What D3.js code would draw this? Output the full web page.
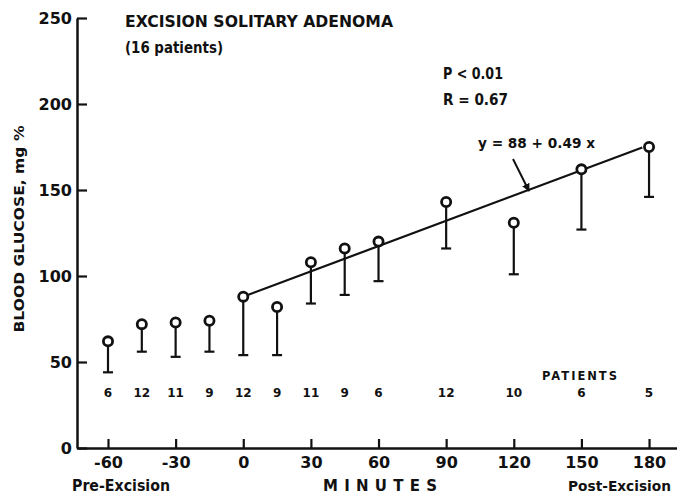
<!DOCTYPE html>
<html>
<head>
<meta charset="utf-8">
<script src="https://cdn.jsdelivr.net/npm/d3@7"></script>
<style>
  body { margin: 0; background: #fff; }
  text { font-family: "DejaVu Sans", sans-serif; font-weight: bold; fill: #111; }
</style>
</head>
<body>
<div class="chart"></div>
<script>
// minutes relative to excision
var minutes = [-60, -45, -30, -15, 0, 15, 30, 45, 60, 90, 120, 150, 180];
// mean blood glucose, mg %
var meanGlucose = [62, 72, 73, 74, 88, 82, 108, 116, 120, 143, 131, 162, 175];
// lower end of the error bar
var lowGlucose = [44, 56, 53, 56, 54, 54, 84, 89, 97, 116, 101, 127, 146];
// number of patients at each time
var patients = [6, 12, 11, 9, 12, 9, 11, 9, 6, 12, 10, 6, 5];
var xTicks = [-60, -30, 0, 30, 60, 90, 120, 150, 180];
var yTicks = [0, 50, 100, 150, 200, 250];
// regression y = 88 + 0.49 x
var fitMinutes = [2, 177];
var fitA = 88, fitB = 0.49;

var width = 677, height = 495;

var svg = d3.select(".chart").append("svg")
  .attr("width", width)
  .attr("height", height);

var x = d3.scaleLinear().domain([-73.75, 192.4]).range([77, 677]);
var y = d3.scaleLinear().domain([0, 250]).range([448, 18]);

// axes
var xAxis = svg.append("g")
  .attr("transform", "translate(0," + y(0) + ")")
  .call(d3.axisBottom(x).tickValues(xTicks).tickSize(-9).tickSizeOuter(0).tickPadding(9)
    .tickFormat(function(d) { return d < 0 ? "-" + Math.abs(d) : d; }));

var yAxis = svg.append("g")
  .attr("transform", "translate(" + x(-73.75) + ",0)")
  .call(d3.axisLeft(y).tickValues(yTicks).tickSize(-10).tickSizeOuter(0).tickPadding(5));

[xAxis, yAxis].forEach(function(g) {
  g.select(".domain").attr("stroke", "#111").attr("stroke-width", 2.5);
  g.selectAll(".tick line").attr("stroke", "#111").attr("stroke-width", 2.2);
  g.selectAll(".tick text")
    .attr("fill", "#111")
    .style("font-family", "'DejaVu Sans', sans-serif")
    .style("font-weight", "bold")
    .style("font-size", "16px");
});

// error bars (downward only)
var bars = svg.append("g");
bars.selectAll("line.bar").data(minutes).enter().append("line")
  .attr("class", "bar")
  .attr("x1", function(d) { return x(d); })
  .attr("x2", function(d) { return x(d); })
  .attr("y1", function(d, i) { return y(meanGlucose[i]); })
  .attr("y2", function(d, i) { return y(lowGlucose[i]); })
  .attr("stroke", "#111")
  .attr("stroke-width", 2.2);

bars.selectAll("line.cap").data(minutes).enter().append("line")
  .attr("class", "cap")
  .attr("x1", function(d) { return x(d) - 5; })
  .attr("x2", function(d) { return x(d) + 5; })
  .attr("y1", function(d, i) { return y(lowGlucose[i]); })
  .attr("y2", function(d, i) { return y(lowGlucose[i]); })
  .attr("stroke", "#111")
  .attr("stroke-width", 2.2);

// regression line
svg.append("line")
  .attr("x1", x(fitMinutes[0]))
  .attr("y1", y(fitA + fitB * fitMinutes[0]))
  .attr("x2", x(fitMinutes[1]))
  .attr("y2", y(fitA + fitB * fitMinutes[1]))
  .attr("stroke", "#111")
  .attr("stroke-width", 2.2);

// mean points
svg.append("g").selectAll("circle").data(minutes).enter().append("circle")
  .attr("cx", function(d) { return x(d); })
  .attr("cy", function(d, i) { return y(meanGlucose[i]); })
  .attr("r", 4.6)
  .attr("fill", "#fff")
  .attr("stroke", "#111")
  .attr("stroke-width", 2.8);

// patient counts
svg.append("g").selectAll("text").data(patients).enter().append("text")
  .attr("x", function(d, i) { return x(minutes[i]); })
  .attr("y", 397)
  .attr("text-anchor", "middle")
  .style("font-size", "12px")
  .text(function(d) { return d; });

svg.append("text")
  .attr("x", 542).attr("y", 380)
  .attr("textLength", 75)
  .style("font-size", "11.5px")
  .text("PATIENTS");

// arrow to regression line
svg.append("defs").append("marker")
  .attr("id", "head")
  .attr("viewBox", "0 0 10 10")
  .attr("refX", 9).attr("refY", 5)
  .attr("markerWidth", 4).attr("markerHeight", 4)
  .attr("orient", "auto")
  .append("path").attr("d", "M0,0L10,5L0,10Z").attr("fill", "#111");

svg.append("line")
  .attr("x1", 513).attr("y1", 159)
  .attr("x2", 529).attr("y2", 191)
  .attr("stroke", "#111")
  .attr("stroke-width", 2)
  .attr("marker-end", "url(#head)");

// labels
function label(t, px, py, size, len) {
  var el = svg.append("text").attr("x", px).attr("y", py)
    .style("font-size", size + "px").text(t);
  if (len) el.attr("textLength", len).attr("lengthAdjust", "spacingAndGlyphs");
  return el;
}
label("EXCISION SOLITARY ADENOMA", 125, 27, 15, 268);
label("(16 patients)", 125, 53, 15, 98);
label("P < 0.01", 443, 79, 15, 60);
label("R = 0.67", 443, 105, 15, 65);
label("y = 88 + 0.49 x", 478, 148, 14, 117);
label("Pre-Excision", 72, 491, 15, 98);
label("Post-Excision", 568, 491, 14.5, 103);
svg.append("text")
  .attr("x", 323).attr("y", 491)
  .attr("textLength", 114)
  .style("font-size", "15px")
  .text("MINUTES");

svg.append("text")
  .attr("transform", "translate(24,229) rotate(-90)")
  .attr("text-anchor", "middle")
  .attr("textLength", 207)
  .attr("lengthAdjust", "spacingAndGlyphs")
  .style("font-size", "14px")
  .text("BLOOD  GLUCOSE, mg %");
</script>
</body>
</html>
